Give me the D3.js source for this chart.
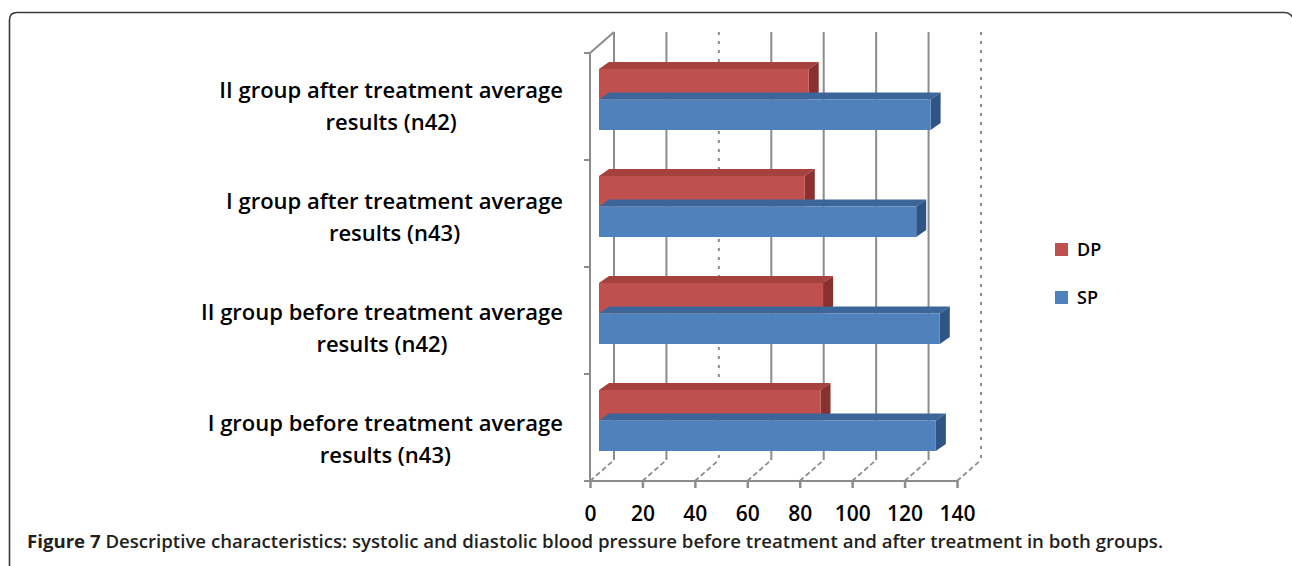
<!DOCTYPE html>
<html><head><meta charset="utf-8">
<script src="https://cdn.jsdelivr.net/npm/d3@7"></script>
<style>
html,body{margin:0;padding:0;background:#fff;}
svg{display:block;}
</style></head>
<body>
<svg id="chart" width="1292" height="566"></svg>
<script>
// ---- data ----
const categories = [
  "II group after treatment average\nresults (n42)",
  "I group after treatment average\nresults (n43)",
  "II group before treatment average\nresults (n42)",
  "I group before treatment average\nresults (n43)"
];
const series = ["DP", "SP"];
const dpValues = [80, 78.5, 85.5, 84.5];
const spValues = [126.5, 121, 130, 128.5];
const xTicks = [0, 20, 40, 60, 80, 100, 120, 140];
const dottedTicks = [40, 140];
const captionBold = "Figure 7";
const captionText = " Descriptive characteristics: systolic and diastolic blood pressure before treatment and after treatment in both groups.";

// ---- drawing ----
const svg = d3.select("#chart");

// frame (right edge runs off the picture)
svg.append("path")
  .attr("d", "M9.5,566 L9.5,20 Q9.5,12.5 17,12.5 L1284,12.5 Q1291,12.5 1294,20")
  .attr("fill", "none").attr("stroke", "#3a3a3a").attr("stroke-width", 1.6);

const x = d3.scaleLinear().domain([0, 140]).range([590, 957]);
const depthX = 24, depthY = -21;
const floorY = 481, topFrontY = 53;
const wallTop = 32;
const y = d3.scaleBand().domain(categories).range([topFrontY, floorY]);
const yLabel = d3.scaleBand().domain(categories).range([50, 494]);
const ys = d3.scaleBand().domain(series).range([16, 77]);
const barShift = 9;           // bar front face sits slightly into depth
const barDX = 10, barDY = -7; // bar depth
const colors = {
  DP: {front: "#C0504D", top: "#A5413E", side: "#8A302E"},
  SP: {front: "#4F81BD", top: "#3C6699", side: "#2F5587"}
};
const gridColor = "#8c8c8c";

// back-wall gridlines
const g = svg.append("g");
g.selectAll("line.grid").data(xTicks).join("line")
  .attr("class", "grid")
  .attr("x1", d => x(d) + depthX).attr("x2", d => x(d) + depthX)
  .attr("y1", wallTop).attr("y2", floorY + depthY)
  .attr("stroke", gridColor).attr("stroke-width", 2)
  .attr("stroke-dasharray", d => dottedTicks.includes(d) ? "3,6" : null);

// floor diagonals
g.selectAll("line.floor").data(xTicks).join("line")
  .attr("class", "floor")
  .attr("x1", d => x(d)).attr("x2", d => x(d) + depthX)
  .attr("y1", floorY).attr("y2", floorY + depthY)
  .attr("stroke", gridColor).attr("stroke-width", 1.8)
  .attr("stroke-dasharray", "5,3");

// left wall top diagonal
g.append("line")
  .attr("x1", x(0)).attr("y1", topFrontY)
  .attr("x2", x(0) + depthX).attr("y2", wallTop)
  .attr("stroke", gridColor).attr("stroke-width", 2);

// bars
const rows = categories.map((c, i) => ({cat: c, DP: dpValues[i], SP: spValues[i]}));
const barData = [];
rows.forEach(r => series.forEach(s => barData.push({cat: r.cat, s, v: r[s]})));

const bars = svg.append("g").selectAll("g.bar").data(barData).join("g").attr("class", "bar");
bars.each(function(d) {
  const gg = d3.select(this);
  const x0 = x(0) + barShift;
  const x1 = x(d.v) + barShift;
  const y0 = y(d.cat) + ys(d.s);
  const h = ys.bandwidth();
  const c = colors[d.s];
  gg.append("path")
    .attr("d", `M${x0},${y0} L${x0 + barDX},${y0 + barDY} L${x1 + barDX},${y0 + barDY} L${x1},${y0} Z`)
    .attr("fill", c.top);
  gg.append("path")
    .attr("d", `M${x1},${y0} L${x1 + barDX},${y0 + barDY} L${x1 + barDX},${y0 + h + barDY} L${x1},${y0 + h} Z`)
    .attr("fill", c.side);
  gg.append("rect")
    .attr("x", x0).attr("y", y0).attr("width", x1 - x0).attr("height", h)
    .attr("fill", c.front);
});

// axes (front)
const axG = svg.append("g");
axG.append("line")
  .attr("x1", x(0)).attr("x2", x(0)).attr("y1", topFrontY).attr("y2", floorY)
  .attr("stroke", gridColor).attr("stroke-width", 2);
axG.append("line")
  .attr("x1", x(0) - 6).attr("x2", x(140)).attr("y1", floorY).attr("y2", floorY)
  .attr("stroke", gridColor).attr("stroke-width", 2);
const yEdges = categories.map(c => y(c)).concat([floorY]);
axG.selectAll("line.yt").data(yEdges).join("line")
  .attr("class", "yt")
  .attr("x1", x(0) - 6).attr("x2", x(0)).attr("y1", d => d).attr("y2", d => d)
  .attr("stroke", gridColor).attr("stroke-width", 2);

const xAxis = d3.axisBottom(x).tickValues(xTicks).tickSize(7).tickPadding(18).tickFormat(d3.format("d"));
const xg = svg.append("g").attr("transform", `translate(0,${floorY})`).call(xAxis);
xg.select(".domain").remove();
xg.selectAll(".tick line").attr("stroke", gridColor).attr("stroke-width", 2.5);
xg.selectAll(".tick text")
  .attr("fill", "#000")
  .style("font-family", "'Open Sans', sans-serif")
  .style("font-weight", 600)
  .style("font-size", "21px");

// category labels
const labG = svg.append("g");
categories.forEach(c => {
  const lines = c.split("\n");
  const cy = yLabel(c) + yLabel.bandwidth() / 2;
  const t = labG.append("text")
    .attr("fill", "#000")
    .style("font-family", "'Open Sans', sans-serif")
    .style("font-weight", 600)
    .style("font-size", "22px");
  const t1 = t.append("tspan").text(lines[0]).attr("x", 0).attr("y", cy - 15).attr("dy", "0.35em");
  const w1 = t1.node().getComputedTextLength();
  const cx = 563 - w1 / 2;
  t.attr("text-anchor", "middle");
  t1.attr("x", cx);
  t.append("tspan").text(lines[1]).attr("x", cx).attr("y", cy + 17).attr("dy", "0.35em");
});

// legend
const leg = svg.append("g");
series.forEach((s, i) => {
  const ly = 243 + i * 48;
  leg.append("rect").attr("x", 1055).attr("y", ly).attr("width", 13).attr("height", 13)
    .attr("fill", colors[s].front);
  leg.append("text").attr("x", 1077).attr("y", ly + 6.5).attr("dy", "0.35em")
    .attr("fill", "#000")
    .style("font-family", "'Open Sans', sans-serif")
    .style("font-weight", 600)
    .style("font-size", "18px")
    .text(s);
});

// caption
const cap = svg.append("text")
  .attr("x", 27).attr("y", 548)
  .attr("fill", "#231f20")
  .style("font-family", "'Open Sans', sans-serif")
  .style("font-size", "18px")
  .attr("textLength", 1136).attr("lengthAdjust", "spacingAndGlyphs");
cap.append("tspan").style("font-weight", 700).text(captionBold);
cap.append("tspan").style("font-weight", 600).text(captionText);
</script>
</body></html>
